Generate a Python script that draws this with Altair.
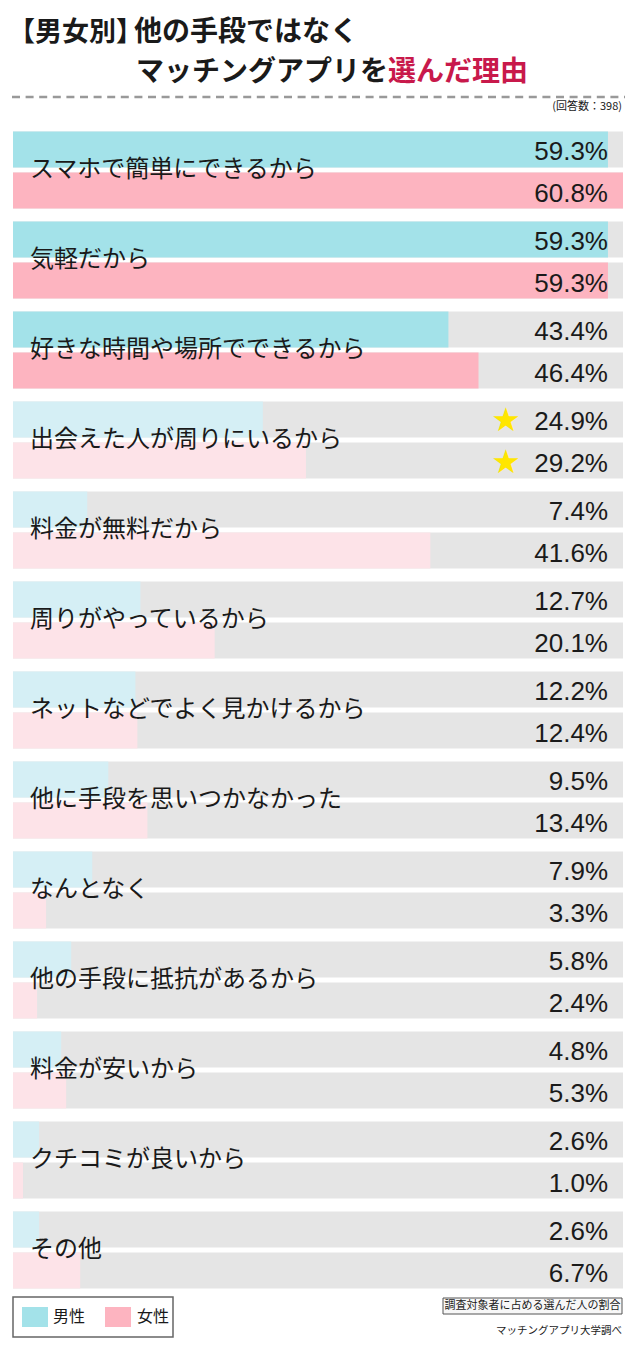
import altair as alt
import pandas as pd

# ---- data ----
categories = [
    "スマホで簡単にできるから",
    "気軽だから",
    "好きな時間や場所でできるから",
    "出会えた人が周りにいるから",
    "料金が無料だから",
    "周りがやっているから",
    "ネットなどでよく見かけるから",
    "他に手段を思いつかなかった",
    "なんとなく",
    "他の手段に抵抗があるから",
    "料金が安いから",
    "クチコミが良いから",
    "その他",
]
male = [59.3, 59.3, 43.4, 24.9, 7.4, 12.7, 12.2, 9.5, 7.9, 5.8, 4.8, 2.6, 2.6]
female = [60.8, 59.3, 46.4, 29.2, 41.6, 20.1, 12.4, 13.4, 3.3, 2.4, 5.3, 1.0, 6.7]
highlight = [1, 1, 1] + [0] * 10
starred_category = "出会えた人が周りにいるから"
genders = ["男性", "女性"]

title_l1a = "【男女別】"
title_l1b = "他の手段ではなく"
title_l2a = "マッチングアプリを"
title_l2b = "選んだ理由"
n_answers = "(回答数：398)"
box_note = "調査対象者に占める選んだ人の割合"
source = "マッチングアプリ大学調べ"

JP = "Noto Sans CJK JP"
NUM = "Liberation Sans"

rows = []
for i, c in enumerate(categories):
    for g, v in zip(genders, [male[i], female[i]]):
        key = g + ("" if highlight[i] else "_light")
        rows.append({"category": c, "gender": g, "value": v, "shade": key,
                     "label": f"{v:.1f}%"})
df = pd.DataFrame(rows)
full_val = max(male + female)
df["full"] = full_val

W, H = 610, 1170

y_enc = alt.Y("category:N", sort=categories, axis=None,
              scale=alt.Scale(domain=categories, paddingInner=13 / 90, paddingOuter=6.5 / 90))
yoff_enc = alt.YOffset("gender:N", sort=genders,
                       scale=alt.Scale(domain=genders, paddingInner=0.122, paddingOuter=0))
x_scale = alt.Scale(domain=[0, full_val], nice=False, zero=True)

shade_domain = ["男性", "女性", "男性_light", "女性_light"]
shade_range = ["#A3E2E9", "#FDB4C0", "#D5EFF5", "#FDE3E8"]

gray = alt.Chart(df).mark_bar(color="#E5E5E5").encode(
    x=alt.X("full:Q", scale=x_scale, axis=None), y=y_enc, yOffset=yoff_enc)

bars = alt.Chart(df).mark_bar().encode(
    x=alt.X("value:Q", scale=x_scale, axis=None), y=y_enc, yOffset=yoff_enc,
    color=alt.Color("shade:N", scale=alt.Scale(domain=shade_domain, range=shade_range), legend=None))

cat_labels = alt.Chart(df).transform_filter(alt.datum.gender == genders[0]).mark_text(
    align="left", baseline="middle", font=JP, fontSize=24, color="#1a1a1a").encode(
    x=alt.value(17), y=y_enc, text="category:N")

pct = alt.Chart(df).mark_text(align="right", baseline="middle", dy=3, font=NUM,
                              fontSize=26, color="#1a1a1a").encode(
    x=alt.value(595), y=y_enc, yOffset=yoff_enc, text="label:N")

stars = alt.Chart(df).transform_filter(alt.datum.category == starred_category).mark_text(
    text="★", align="center", baseline="middle", dy=2, font="DejaVu Sans", fontSize=33,
    color="#FFE600").encode(
    x=alt.value(493), y=y_enc, yOffset=yoff_enc)


def txt(t, x, y, size, color="#1a1a1a", align="left", weight="normal", font=JP):
    return alt.Chart(pd.DataFrame({"t": [t]})).mark_text(
        align=align, baseline="middle", font=font, fontSize=size, fontWeight=weight,
        color=color).encode(x=alt.value(x), y=alt.value(y), text="t:N")


t1a = txt(title_l1a, -5, -92, 27, align="left", weight="bold")
t1b = txt(title_l1b, 121, -92, 28, weight="bold")
t2a = txt(title_l2a, 375, -52, 28, align="right", weight="bold")
t2b = txt(title_l2b, 375, -52, 28, color="#C8194B", weight="bold")

one = pd.DataFrame({"a": [0]})
dash = alt.Chart(one).mark_rule(
    color="#999999", strokeWidth=2.5, strokeDash=[8, 5.6]).encode(
    x=alt.value(-1), x2=alt.value(612), y=alt.value(-28))

ans = txt(n_answers, 609, -18, 11, align="right")

legend_box = alt.Chart(one).mark_rect(
    fill="white", stroke="#666666", strokeWidth=1.5).encode(
    x=alt.value(0), x2=alt.value(160), y=alt.value(1172), y2=alt.value(1212))
sw_m = alt.Chart(one).mark_rect(fill=shade_range[0]).encode(
    x=alt.value(9), x2=alt.value(35), y=alt.value(1182), y2=alt.value(1202))
sw_f = alt.Chart(one).mark_rect(fill=shade_range[1]).encode(
    x=alt.value(92), x2=alt.value(118), y=alt.value(1182), y2=alt.value(1202))
lg_m = txt(genders[0], 40, 1192, 16)
lg_f = txt(genders[1], 124, 1192, 16)

note_box = alt.Chart(one).mark_rect(
    fill="#F7F7F7", stroke="#555555", strokeWidth=1).encode(
    x=alt.value(430), x2=alt.value(609), y=alt.value(1173), y2=alt.value(1189))
note = txt(box_note, 519.5, 1181, 11, align="center")
src = txt(source, 609, 1206, 10.5, align="right")

chart = alt.layer(
    gray, bars, cat_labels, pct, stars,
    t1a, t1b, t2a, t2b, dash, ans,
    legend_box, sw_m, sw_f, lg_m, lg_f, note_box, note, src,
).properties(
    width=W, height=H,
    autosize=alt.AutoSizeParams(type="none"),
    padding={"left": 5, "top": 117, "right": 6, "bottom": 45},
    background="white",
).configure_view(stroke=None)

chart.save("out.html", embed_options={"renderer": "svg", "actions": False})
